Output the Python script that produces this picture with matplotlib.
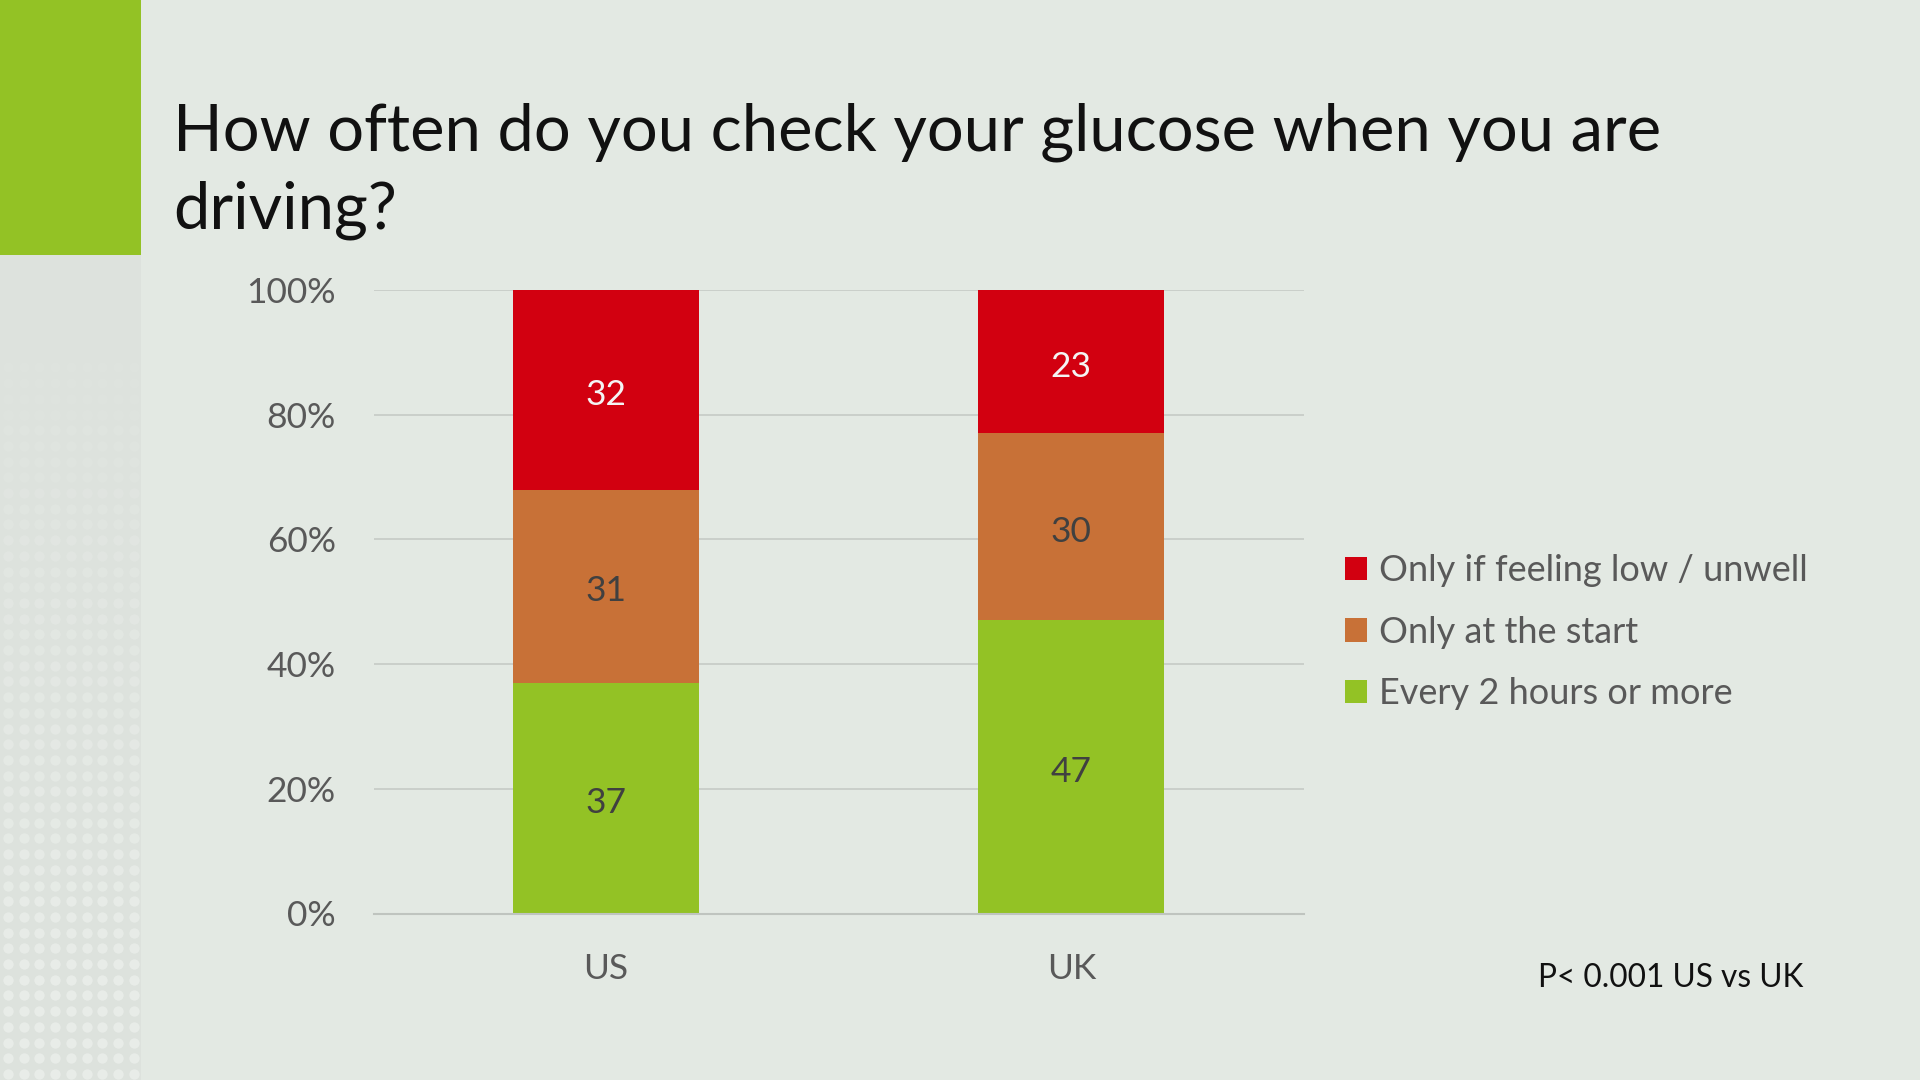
import matplotlib
matplotlib.use("Agg")
import matplotlib.pyplot as plt
import matplotlib.patches as mpatches
import numpy as np

# ---- data ----
categories = ["US", "UK"]
every_2_hours = [37, 47]
only_at_start = [31, 30]
only_if_low = [32, 23]
series_labels = ["Every 2 hours or more", "Only at the start", "Only if feeling low / unwell"]
yticks = [0, 20, 40, 60, 80, 100]
ytick_labels = ["0%", "20%", "40%", "60%", "80%", "100%"]
title_lines = ["How often do you check your glucose when you are", "driving?"]
note = "P< 0.001 US vs UK"

# ---- style ----
BG = "#E3E9E3"
GREEN = "#93C225"
ORANGE = "#C87137"
RED = "#D20010"
GRID = "#C8CDC8"
TICK = "#595959"
FONT = "Lato"
FS = 25.5

W, H = 1920, 1080
fig = plt.figure(figsize=(W / 100, H / 100), dpi=100, facecolor=BG)
plt.rcParams["font.family"] = [FONT, "DejaVu Sans"]

# decorative left strip
deco = fig.add_axes([0, 0, 141 / W, 1])
deco.set_xlim(0, 141)
deco.set_ylim(H, 0)
deco.axis("off")
deco.add_patch(mpatches.Rectangle((0, 255), 141, H - 255, color="#DDE2DD", lw=0))
deco.add_patch(mpatches.Rectangle((0, 0), 141, 255, color=GREEN, lw=0))
xs = np.arange(8, 141, 15.7)
ys = np.arange(H - 6, 255, -15.7)
for yy in ys:
    a = max(0.0, min(1.0, (yy - 300) / 700.0))
    if a <= 0:
        continue
    deco.scatter(xs, np.full(len(xs), yy), s=55,
                 color="#EAEEEA", alpha=a * 0.9, lw=0)

# title
fig.text(173 / W, 1 - 150.7 / H, title_lines[0], fontsize=46.8, color="#111111",
         ha="left", va="baseline", family=FONT)
fig.text(173 / W, 1 - 228 / H, title_lines[1], fontsize=46.8, color="#111111",
         ha="left", va="baseline", family=FONT)

# main axes
left, right = 373.5 / W, 1304 / W
bottom, top = 1 - 913.5 / H, 1 - 290 / H
ax = fig.add_axes([left, bottom, right - left, top - bottom])
ax.set_facecolor(BG)
x = np.arange(len(categories))
bw = 0.4
b1 = ax.bar(x, every_2_hours, bw, color=GREEN, label=series_labels[0], zorder=3)
b2 = ax.bar(x, only_at_start, bw, bottom=every_2_hours, color=ORANGE,
            label=series_labels[1], zorder=3)
bot3 = [a + b for a, b in zip(every_2_hours, only_at_start)]
b3 = ax.bar(x, only_if_low, bw, bottom=bot3, color=RED, label=series_labels[2], zorder=3)

anns = []
anns += ax.bar_label(b1, labels=[str(v) for v in every_2_hours], label_type="center",
                     fontsize=FS, color="#404040", family=FONT)
anns += ax.bar_label(b2, labels=[str(v) for v in only_at_start], label_type="center",
                     fontsize=FS, color="#404040", family=FONT)
anns += ax.bar_label(b3, labels=[str(v) for v in only_if_low], label_type="center",
                     fontsize=FS, color="#F4F4F4", family=FONT)
for a in anns:
    a.xyann = (0, -3.5)

ax.set_xlim(-0.5, 1.5)
ax.set_ylim(0, 100)
ax.set_yticks(yticks)
ax.set_yticklabels(ytick_labels)
ax.set_xticks(x)
ax.set_xticklabels(categories)
ax.tick_params(axis="y", length=0, pad=27, labelsize=FS, labelcolor=TICK)
ax.tick_params(axis="x", length=0, pad=28.5, labelsize=FS, labelcolor=TICK)
for lab in ax.get_xticklabels() + ax.get_yticklabels():
    lab.set_family(FONT)
ax.grid(axis="y", color=GRID, lw=1.3, zorder=0)
for s in ["top", "right", "left"]:
    ax.spines[s].set_visible(False)
ax.spines["bottom"].set_color("#BFC4BF")
ax.spines["bottom"].set_linewidth(1.5)
ax.spines["bottom"].set_zorder(4)

# legend
handles = [b3, b2, b1]
leg = fig.legend(handles, [series_labels[2], series_labels[1], series_labels[0]],
                 loc="upper left", bbox_to_anchor=(1338 / W, 1 - 547 / H),
                 frameon=False, prop={"family": FONT, "size": 26},
                 handlelength=0.61, handleheight=0.61, handletextpad=0.33,
                 labelspacing=0.79, borderaxespad=0, borderpad=0.2)
for t in leg.get_texts():
    t.set_color(TICK)

# note
fig.text(1803 / W, 1 - 987 / H, note, fontsize=22.8, color="#111111",
         ha="right", va="baseline", family=FONT)

fig.savefig("out.png", dpi=100, facecolor=BG)
